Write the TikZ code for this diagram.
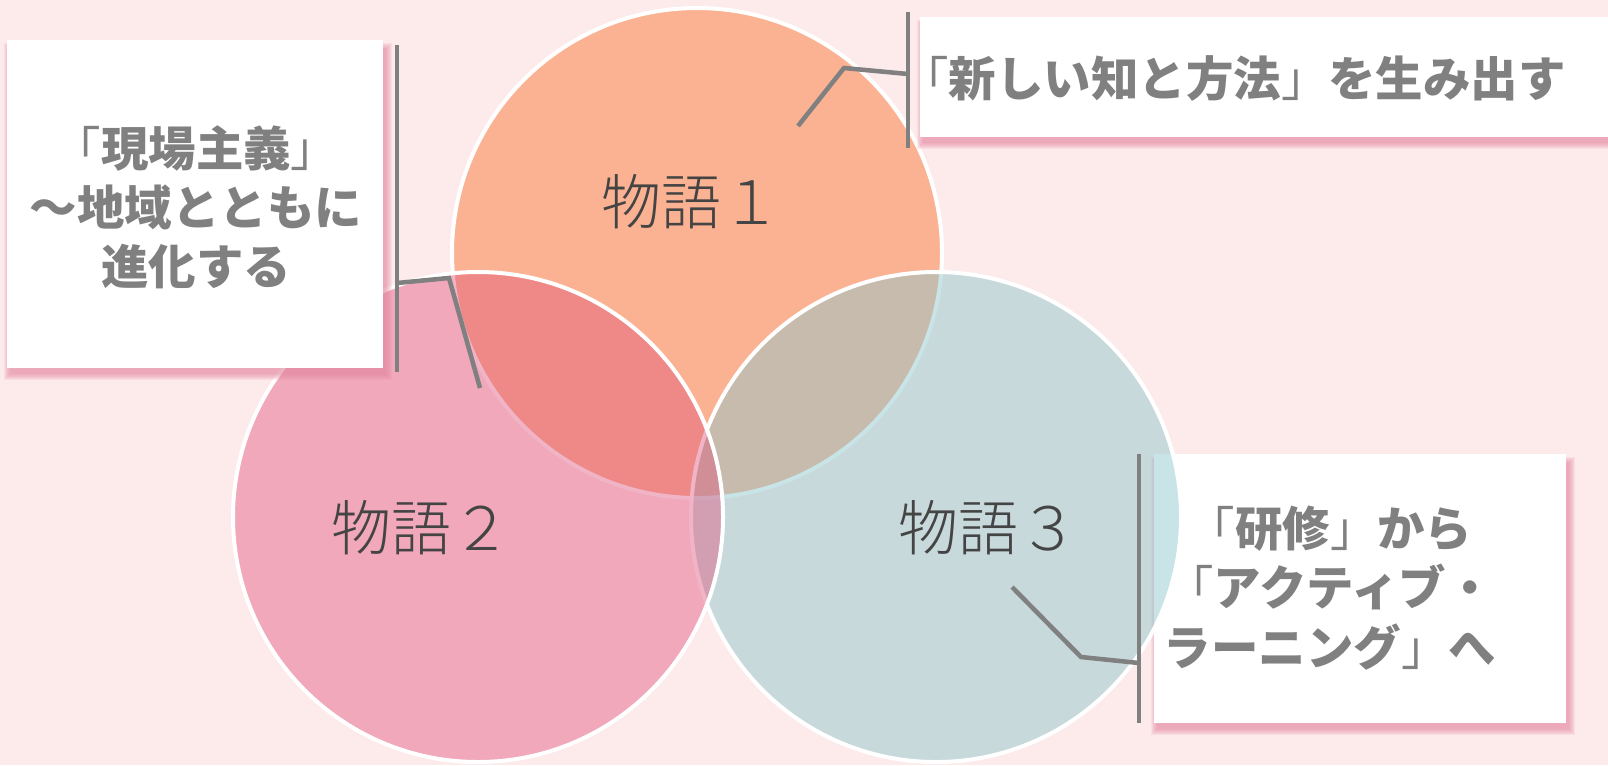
\documentclass[tikz,border=0pt]{standalone}
\usepackage{fontspec}
\newfontfamily\jp{Noto Sans CJK JP}
\newfontfamily\jplight{Noto Sans CJK JP}[UprightFont={* Light}]
\definecolor{bgpink}{RGB}{253,234,235}
\definecolor{cone}{RGB}{251,178,146}
\definecolor{ctwo}{RGB}{223,83,123}
\definecolor{cthree}{RGB}{140,198,203}
\definecolor{shadowpink}{RGB}{228,135,160}
\definecolor{graytxt}{RGB}{128,128,128}
\definecolor{darktxt}{RGB}{68,68,68}
\newcommand{\boxshadow}[4]{%
  \foreach \e in {0,1,...,6}{%
    \fill[shadowpink,opacity=0.13] ({#1+3-\e},{#2+9-\e}) rectangle ({#3+3+\e},{#4+6+\e});
  }%
}
\newcommand{\lbk}{{\mdseries 「}}
\newcommand{\rbk}{{\mdseries 」}}
\tikzset{
  venn/.style={circle, draw=white, line width=3pt, minimum size=367.5pt, inner sep=0pt},
  whitebox/.style={rectangle, fill=white, inner sep=0pt},
  boxtext/.style={font=\jp\bfseries\fontsize{35.6}{44.3}\selectfont, text=graytxt, align=center, inner sep=0pt},
  vennlabel/.style={font=\jplight\fontsize{45}{50}\selectfont, text=darktxt, inner sep=0pt},
  leader/.style={draw=graytxt, line width=3.4pt},
}
\begin{document}
\begin{tikzpicture}[x=0.75pt,y=-0.75pt]
\useasboundingbox (0,0) rectangle (1608,765);
\fill[bgpink] (0,0) rectangle (1608,765);
% circle 1
\node[venn, fill=cone] (c1) at (697,253) {};
% box 3 (under circle 3)
\boxshadow{1154}{454}{1566}{723}
\node[whitebox, minimum width=309pt, minimum height=201.75pt] (b3) at (1360,588.5) {};
% circle 3
\node[venn, fill=cthree, fill opacity=0.47] (c3) at (936,517) {};
% circle 2
\node[venn, fill=ctwo, fill opacity=0.43] (c2) at (478,517) {};
% box 1
\boxshadow{7}{40}{383}{368}
\node[whitebox, minimum width=282pt, minimum height=246pt] (b1) at (195,204) {};
% box 2
\boxshadow{920}{17}{1640}{137}
\node[whitebox, minimum width=540pt, minimum height=90pt] (b2) at (1280,77) {};
% texts
\node[boxtext] (t1) at (196,207) {\lbk 現場主義\rbk\\〜地域とともに\\進化する};
\node[boxtext, anchor=west] (t2) at (901,79) {\lbk 新しい知と方法\rbk を生み出す};
\node[boxtext] (t3) at (1330,588) {\lbk 研修\rbk から\\\lbk アクティブ・\\ラーニング\rbk へ};
\node[vennlabel] (l1) at (691,202) {物語１};
\node[vennlabel] (l2) at (421,528) {物語２};
\node[vennlabel] (l3) at (988,528) {物語３};
% callout bars and leaders
\coordinate (v1a) at (397,45);
\coordinate (v1b) at (397,372);
\coordinate (k1s) at (397,283);
\coordinate (k1m) at (449,278);
\coordinate (k1e) at (480,388);
\draw[leader] (v1a) -- (v1b);
\draw[leader] (k1s) -- (k1m) -- (k1e);
\coordinate (v2a) at (908,12);
\coordinate (v2b) at (908,148);
\coordinate (k2s) at (908,74);
\coordinate (k2m) at (844,68);
\coordinate (k2e) at (798,126);
\draw[leader] (v2a) -- (v2b);
\draw[leader] (k2s) -- (k2m) -- (k2e);
\coordinate (v3a) at (1139,454);
\coordinate (v3b) at (1139,723);
\coordinate (k3s) at (1139,663);
\coordinate (k3m) at (1081,657);
\coordinate (k3e) at (1012,587);
\draw[leader] (v3a) -- (v3b);
\draw[leader] (k3s) -- (k3m) -- (k3e);
\end{tikzpicture}
\end{document}
